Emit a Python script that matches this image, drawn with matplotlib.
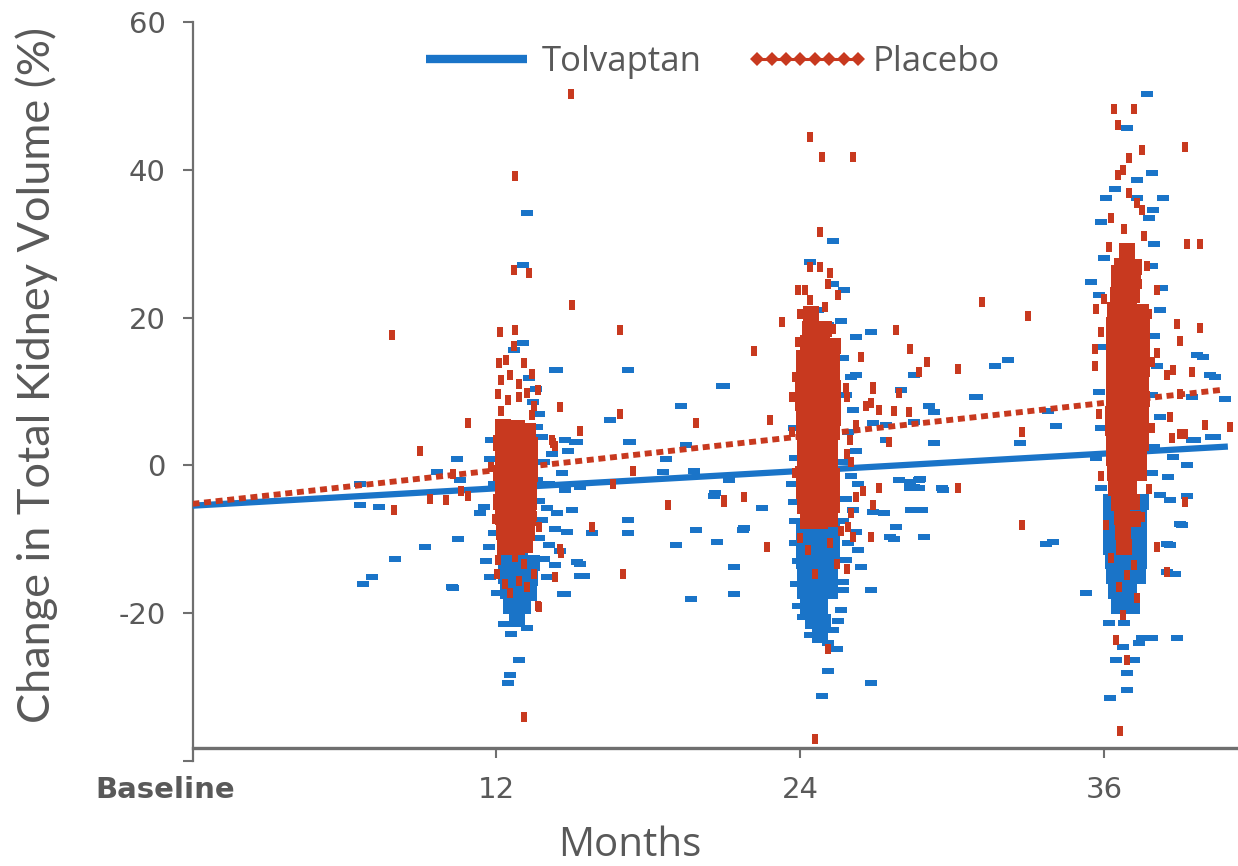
import matplotlib
matplotlib.use("Agg")
import matplotlib.pyplot as plt
import numpy as np
from matplotlib.lines import Line2D
from matplotlib import font_manager
from matplotlib.transforms import ScaledTranslation

# ---------------- data (months, % change) ----------------
trend_months = [0.0, 40.9]
tolvaptan_trend = [-5.45, 2.55]
placebo_trend_months = [0.0, 40.6]
placebo_trend = [-5.2, 10.2]

xtick_values = [0, 12, 24, 36]
xtick_labels = ["Baseline", "12", "24", "36"]
ytick_values = [-40, -20, 0, 20, 40, 60]
ytick_labels = ["", "-20", "0", "20", "40", "60"]

# dense (overlapping) parts of each visit cluster
placebo_core_12 = [
    (12.25, 5.2), (12.8, 5.0), (13.25, 4.6),
    (12.2, 3.0), (12.8, 3.1), (13.35, 2.8),
    (12.25, 1.0), (12.8, 1.1), (13.35, 0.9),
    (12.2, -1.0), (12.8, -0.9), (13.35, -1.1),
    (12.25, -3.0), (12.8, -3.0), (13.3, -3.1),
    (12.2, -5.0), (12.8, -4.9), (13.3, -5.0),
    (12.25, -7.0), (12.8, -7.0), (13.25, -7.1),
    (12.3, -9.0), (12.8, -9.0), (13.2, -9.1),
    (12.35, -11.0), (12.8, -11.0), (13.15, -10.8),
]
placebo_core_24 = [
    (24.45, 20.5),
    (24.4, 18.5), (24.95, 18.4),
    (24.3, 16.5), (24.85, 16.6), (25.3, 16.2),
    (24.15, 14.5), (24.7, 14.6), (25.25, 14.3),
    (24.15, 12.5), (24.7, 12.5), (25.25, 12.4),
    (24.1, 10.5), (24.7, 10.5), (25.3, 10.5),
    (24.1, 8.5), (24.7, 8.5), (25.3, 8.6),
    (24.15, 6.5), (24.7, 6.5), (25.3, 6.4),
    (24.15, 4.5), (24.7, 4.5), (25.25, 4.5),
    (24.2, 2.5), (24.7, 2.5), (25.2, 2.5),
    (24.2, 0.5), (24.7, 0.5), (25.2, 0.4),
    (24.15, -1.5), (24.7, -1.5), (25.25, -1.5),
    (24.15, -3.5), (24.7, -3.5), (25.25, -3.5),
    (24.2, -5.5), (24.7, -5.5), (25.25, -5.4),
    (24.3, -7.5), (24.8, -7.5), (25.2, -7.3),
]
placebo_core_36 = [
    (36.9, 29.0),
    (36.7, 27.0), (37.2, 26.8),
    (36.6, 25.0), (37.15, 25.0),
    (36.55, 23.0), (37.1, 23.0),
    (36.45, 21.0), (37.0, 21.0), (37.45, 20.8),
    (36.4, 19.0), (36.95, 19.0), (37.5, 19.0),
    (36.4, 17.0), (36.95, 17.0), (37.5, 17.0),
    (36.4, 15.0), (36.95, 15.0), (37.5, 15.0),
    (36.4, 13.0), (36.95, 13.0), (37.5, 13.0),
    (36.4, 11.0), (36.95, 11.0), (37.45, 11.0),
    (36.4, 9.0), (36.95, 9.0), (37.5, 9.0),
    (36.35, 7.0), (36.9, 7.0), (37.45, 7.0),
    (36.35, 5.0), (36.9, 5.0), (37.45, 5.0),
    (36.4, 3.0), (36.95, 3.0), (37.45, 3.0),
    (36.4, 1.0), (36.95, 1.0), (37.4, 1.0),
    (36.45, -1.0), (36.95, -1.0), (37.4, -1.0),
    (36.5, -3.0), (37.0, -3.0),
    (36.6, -5.0), (37.1, -5.0),
    (36.7, -7.0), (37.15, -7.2),
    (36.75, -9.0),
    (36.8, -11.0),
]
tolvaptan_core_12 = [
    (12.4, -13.0), (12.95, -13.0), (13.4, -13.2),
    (12.4, -15.0), (12.95, -15.0), (13.35, -15.2),
    (12.45, -17.0), (12.95, -17.0), (13.3, -17.2),
    (12.6, -19.0), (13.05, -19.0),
    (12.8, -20.8),
]
tolvaptan_core_24 = [
    (24.15, -9.0), (24.7, -9.0), (25.25, -9.0),
    (24.15, -11.0), (24.7, -11.0), (25.25, -11.0),
    (24.15, -13.0), (24.7, -13.0), (25.25, -13.0),
    (24.2, -15.0), (24.7, -15.0), (25.2, -15.0),
    (24.2, -17.0), (24.7, -17.0), (25.2, -17.0),
    (24.3, -19.0), (24.8, -19.0),
    (24.5, -21.0), (24.9, -21.2),
    (24.8, -23.0),
]
tolvaptan_core_36 = [
    (36.3, -5.0), (37.45, -5.0),
    (36.3, -7.0), (36.85, -7.0), (37.4, -7.0),
    (36.3, -9.0), (36.85, -9.0), (37.4, -9.0),
    (36.3, -11.0), (36.85, -11.0), (37.4, -11.0),
    (36.35, -13.0), (36.9, -13.0), (37.4, -13.0),
    (36.4, -15.0), (36.9, -15.0), (37.35, -15.0),
    (36.5, -17.0), (37.0, -17.0),
    (36.6, -19.0), (37.1, -19.0),
]

# individual patients, placebo
placebo_points = [
    # around month 12
    (12.16, 18.1), (12.75, 18.3), (12.7, 16.2), (13.1, 13.8), (12.1, 13.9),
    (12.4, 14.3), (13.4, 12.4), (12.2, 11.5), (12.55, 12.2), (12.9, 11.0),
    (12.05, 9.6), (12.45, 8.8), (12.9, 9.3), (13.2, 9.8), (13.5, 8.0),
    (12.2, 7.4), (13.4, 6.8), (13.66, 10.2), (14.2, 3.4), (14.3, 2.6),
    (11.8, -0.2), (11.96, -7.2), (13.5, -6.8), (13.7, -8.4), (14.5, -11.3),
    (14.55, -11.8), (12.07, -12.8), (12.73, -12.4), (13.1, -13.3), (12.56, -17.3),
    (12.03, -14.7), (13.5, -14.7), (13.66, -19.0), (12.9, -15.6), (12.35, -16.0),
    (13.2, -16.5), (13.1, -34.0),
    (14.96, 50.2), (12.75, 39.1), (12.7, 26.4), (13.3, 26.0), (15.0, 21.7),
    (16.9, 18.3), (7.9, 17.6),
    # before month 12
    (10.9, 5.7), (9.0, 2.0), (7.95, -6.1), (9.4, -4.5), (10.0, -4.7),
    (10.9, -4.1), (10.6, -3.4), (10.3, -1.1),
    # between 12 and 24
    (14.5, 7.9), (16.9, 7.0), (15.3, 4.7), (19.9, 5.7), (14.25, 3.0),
    (17.4, -0.7), (16.6, -2.5), (18.8, -5.3), (21.0, -4.7), (21.8, -4.3),
    (22.7, -11.1), (15.8, -8.4), (17.0, -14.7), (14.3, -15.1), (13.7, -19.2),
    (22.2, 15.5), (22.8, 6.1), (23.3, 19.4), (21.0, -5.0),
    # around month 24
    (24.4, 44.4), (24.85, 41.7), (26.1, 41.7), (24.77, 31.6), (24.4, 26.9),
    (24.8, 26.9), (25.2, 26.0), (23.9, 23.7), (24.2, 23.7), (24.4, 22.4),
    (25.1, 24.5), (25.5, 23.0), (25.0, 21.5), (24.0, 20.5), (25.3, 18.5),
    (24.1, 17.0), (25.5, 16.5), (26.4, 14.7), (26.9, 10.6), (26.8, 8.4),
    (27.1, 7.5), (27.7, 7.4), (28.3, 7.2), (27.5, 3.2), (26.2, 5.4),
    (27.1, -3.0), (26.9, -5.4), (26.8, -9.7), (25.85, -14.0), (25.1, -24.9),
    (24.6, -37.0), (25.45, -13.4), (24.6, -14.7), (24.3, -11.5), (25.2, -10.5),
    (24.0, -9.8), (25.6, -8.9), (23.8, -1.0), (26.0, 0.5), (23.7, 4.5),
    (25.8, 10.5), (23.8, 12.0), (26.0, -6.5), (25.85, 9.3), (25.98, 3.4),
    (25.85, 1.6), (26.2, -4.3), (25.9, -8.4), (26.1, -9.7), (26.5, -3.5),
    (23.9, -0.7), (23.7, 9.3), (23.9, 16.7),
    # between 24 and 36
    (31.2, 22.1), (33.0, 20.2), (27.8, 18.3), (28.35, 15.8), (29.0, 14.0),
    (30.25, 13.1), (28.7, 12.6), (26.9, 10.4), (27.9, 9.8), (26.6, 8.1),
    (30.25, -3.1), (32.75, -8.1), (32.75, 4.5),
    # around month 36
    (36.4, 48.2), (37.2, 48.2), (36.55, 46.0), (39.2, 43.1), (37.5, 42.7),
    (37.0, 41.6), (36.75, 40.0), (36.55, 39.3), (37.0, 36.8), (37.3, 35.5),
    (37.5, 34.5), (39.3, 29.9), (39.8, 29.9), (36.3, 33.5), (36.8, 32.0),
    (37.6, 31.0), (36.2, 29.5), (37.0, 28.5), (37.7, 27.0), (36.4, 26.5),
    (35.7, 21.1), (35.65, 15.7), (35.65, 13.4), (36.0, 22.5), (38.1, 23.7),
    (38.9, 19.1), (39.8, 18.6), (39.0, 16.9), (38.5, 12.3), (38.75, 12.9),
    (39.0, 9.7), (39.5, 12.6), (38.6, 6.6), (39.0, 4.3), (40.0, 5.5),
    (41.0, 5.2), (38.7, 3.7), (39.2, 4.2), (38.5, -14.4), (39.2, -5.0),
    (38.1, -11.1), (36.5, -23.6), (36.75, -20.3), (36.9, -26.4), (36.65, -36.0),
    (36.1, -8.0), (37.5, -7.0), (36.3, -12.5), (37.2, -13.5), (36.6, -16.5),
    (37.3, -18.0), (36.9, -14.8), (36.4, -5.5), (37.8, -3.2), (35.9, -1.5),
    (37.9, 5.0), (35.8, 7.0), (37.9, 14.0), (35.9, 18.0), (37.8, 20.5),
    (36.6, 24.0), (37.4, 24.5), (38.1, 15.2),
]

# individual patients, tolvaptan
tolvaptan_points = [
    # around month 12
    (13.07, 16.5), (13.2, 34.2), (13.07, 27.1), (12.7, 15.6), (14.4, 12.9),
    (17.2, 12.9), (16.5, 6.1), (17.3, 3.2), (14.7, 3.4), (15.2, 3.2),
    (10.45, 0.8), (15.3, -2.9), (17.2, -7.4), (17.2, -9.2), (10.5, -9.9),
    (9.2, -11.1), (8.0, -12.6), (10.25, -16.5), (15.3, -14.9), (14.65, -17.4),
    (14.0, -15.1), (15.2, -13.1), (12.6, -22.8), (12.9, -26.4), (12.55, -28.4),
    (12.45, -29.4), (13.2, -22.0), (12.3, -21.5),
    (11.77, 0.8), (11.5, -5.6), (11.37, -6.5), (11.9, -9.2), (11.7, -11.1),
    (11.6, -12.9), (11.77, -15.1), (12.03, -17.3), (11.8, 3.5), (11.9, -2.5),
    (13.3, 11.8), (13.55, 10.3), (13.45, 8.6), (13.7, 7.0), (13.6, 5.2),
    (13.8, 3.8), (14.2, 1.5), (14.6, -1.0), (14.1, -2.5), (14.7, -3.3),
    (13.7, -4.8), (14.0, -5.8), (14.4, -6.4), (13.8, -7.4), (14.3, -8.6),
    (14.8, -9.0), (13.7, -9.8), (14.1, -10.8), (14.5, -11.6), (13.9, -12.6),
    (14.3, -13.5), (13.6, -2.0), (13.9, 0.5),
    # before month 12
    (6.6, -2.5), (6.6, -5.4), (7.35, -5.6), (10.55, -2.0), (9.65, -0.9),
    (7.1, -15.1), (6.75, -16.1), (10.3, -16.6),
    # between 12 and 24
    (14.3, 12.9), (20.9, 10.7), (19.3, 8.1), (15.1, 3.2), (17.25, 3.2),
    (19.5, 2.7), (14.85, 2.0), (18.7, 0.9), (18.6, -0.9), (19.8, -0.7),
    (15.3, -2.7), (20.65, -3.8), (22.5, -5.8), (15.8, -9.2), (15.0, -6.1),
    (19.9, -8.8), (21.8, -8.5), (19.1, -10.8), (20.7, -10.4), (15.3, -13.3),
    (15.45, -14.9), (21.4, -13.8), (14.7, -17.4), (19.7, -18.1), (21.4, -17.4),
    (21.0, 10.8), (20.6, -4.1), (21.2, -2.0), (21.75, -8.8),
    # around month 24
    (24.4, 27.5), (25.3, 30.4), (25.75, 23.7), (25.6, 19.6), (26.8, 18.1),
    (26.2, 17.4), (28.5, 12.2), (26.2, 12.2), (28.0, 10.2), (29.3, 7.2),
    (31.0, 9.3), (26.9, 5.7), (27.4, 5.4), (28.5, 5.9), (29.3, 3.0),
    (27.4, 3.4), (27.9, -2.0), (28.35, -2.3), (28.75, -1.8), (28.5, -2.9),
    (29.6, -3.1), (28.5, -6.1), (26.9, -6.3), (27.3, -6.5), (27.8, -8.4),
    (27.55, -9.7), (28.9, -9.7), (26.8, -16.9), (25.7, -15.8), (25.7, -16.9),
    (26.4, -13.8), (26.8, -29.4), (25.1, -27.8), (24.85, -31.2), (25.1, -24.1),
    (25.45, -24.8), (24.4, -23.0), (25.3, -22.3),
    (23.75, 5.0), (23.8, 1.0), (23.7, -2.5), (23.75, -5.0), (23.8, -7.5),
    (25.7, 14.5), (26.0, 12.0), (25.8, 9.5), (26.1, 7.5), (25.9, 4.5),
    (26.2, 2.0), (25.75, 0.5), (26.0, -1.5), (26.3, -2.5), (25.8, -4.5),
    (26.1, -6.0), (25.7, -7.5), (26.2, -9.0), (25.9, -10.5), (26.3, -11.5),
    (25.8, -12.8), (23.8, -10.5), (23.9, -13.0), (23.85, -16.0), (23.9, -19.0),
    (24.1, -20.5), (25.6, -19.5), (25.5, -21.0), (24.3, 17.5), (25.1, 19.0),
    (24.7, 21.0), (25.3, 24.5), (24.5, 15.8),
    # between 24 and 36
    (32.2, 14.2), (31.7, 13.5), (30.9, 9.2), (29.1, 8.1), (33.8, 7.4),
    (34.1, 5.3), (32.7, 3.0), (28.7, -2.0), (28.35, -3.1), (28.7, -3.1),
    (29.65, -3.3), (28.4, -6.1), (28.8, -6.1), (27.7, -9.9), (33.7, -10.6),
    # around month 36
    (37.7, 50.2), (36.9, 45.6), (37.9, 39.6), (37.3, 38.6), (36.45, 37.4),
    (36.1, 36.2), (37.3, 36.2), (38.35, 36.2), (37.95, 34.5), (38.3, 24.0),
    (35.5, 24.8), (39.7, 14.9), (40.2, 12.3), (39.5, 9.2), (39.5, 3.5),
    (40.25, 3.8), (39.3, 0.1), (38.55, -1.6), (38.6, -4.7), (39.3, -4.2),
    (39.0, -7.9), (38.5, -10.7), (34.0, -10.4), (38.5, -14.4), (35.3, -17.3),
    (36.2, -21.3), (36.8, -21.3), (37.5, -23.3), (37.9, -23.3), (38.9, -23.3),
    (36.5, -26.4), (37.2, -26.4), (36.9, -28.1), (36.9, -30.4), (36.25, -31.5),
    (36.75, -24.6), (37.4, -24.1), (39.9, 14.7), (40.4, 12.0), (40.8, 9.0),
    (40.4, 3.8), (39.6, 3.4), (38.75, 1.1), (39.1, -8.1), (38.6, -10.8),
    (38.8, -14.7),
    (35.9, 33.0), (36.0, 28.0), (35.8, 23.0), (36.0, 16.0), (35.8, 10.0),
    (35.9, 5.0), (35.7, 1.0), (35.9, -3.0), (37.8, 33.5), (38.0, 30.0),
    (37.9, 27.0), (38.2, 21.0), (38.0, 17.5), (38.1, 13.5), (37.9, 9.5),
    (38.2, 6.5), (38.0, 2.5), (37.9, -1.0), (38.2, -4.0),
]

# ---------------- style ----------------
BLUE = "#1a74c8"
RED = "#c8391f"
GRAY_TXT = "#595959"
GRAY_AX = "#6f6f6f"

names = {f.name for f in font_manager.fontManager.ttflist}
if "Liberation Sans Narrow" in names:
    ylab_family, ylab_size = "Liberation Sans Narrow", 37
else:
    ylab_family, ylab_size = "Lato", 32.5

blue_mark = [(-2, -1), (2, -1), (2, 1), (-2, 1)]
red_mark = [(-1, -2), (1, -2), (1, 2), (-1, 2)]

fig = plt.figure(figsize=(12.38, 8.66), dpi=100)
fig.patch.set_facecolor("white")
ax = fig.add_axes([192.5 / 1238, 105 / 866, 1045.5 / 1238, 739 / 866])
ax.set_xlim(0, 41.3)
ax.set_ylim(-40, 60)


def xy(pts):
    a = np.array(pts, dtype=float)
    return a[:, 0], a[:, 1]


# tolvaptan
x, y = xy(tolvaptan_core_12 + tolvaptan_core_24 + tolvaptan_core_36)
ax.plot(x, y, ls="none", marker="s", ms=11, mew=0, color=BLUE, zorder=2)
x, y = xy(tolvaptan_points)
ax.plot(x, y, ls="none", marker=blue_mark, ms=8, mew=0, color=BLUE, zorder=2)
ax.plot(trend_months, tolvaptan_trend, color=BLUE, lw=4.5, solid_capstyle="butt", zorder=3)

# placebo
x, y = xy(placebo_core_12 + placebo_core_24 + placebo_core_36)
ax.plot(x, y, ls="none", marker="s", ms=11, mew=0, color=RED, zorder=4)
x, y = xy(placebo_points)
ax.plot(x, y, ls="none", marker=red_mark, ms=7.5, mew=0, color=RED, zorder=4)
ax.plot(placebo_trend_months, placebo_trend, color=RED, lw=4.2,
        linestyle=(0, (1.2, 0.8)), dash_capstyle="butt", zorder=5)

# axes styling
for s in ("top", "right"):
    ax.spines[s].set_visible(False)
ax.spines["left"].set_color(GRAY_AX)
ax.spines["left"].set_linewidth(1.6)
ax.spines["bottom"].set_color(GRAY_AX)
ax.spines["bottom"].set_linewidth(2.4)
ax.spines["bottom"].set_position(("data", -38.3))

ax.set_yticks(ytick_values)
ax.set_yticklabels(ytick_labels)
ax.set_xticks(xtick_values)
ax.set_xticklabels(xtick_labels)
ax.tick_params(axis="both", colors=GRAY_AX, labelcolor=GRAY_TXT, labelsize=21,
               length=7.5, width=1.5, pad=12, direction="out")
ax.xaxis.get_major_ticks()[0].tick1line.set_visible(False)
base = ax.get_xticklabels()[0]
base.set_fontweight("bold")
base.set_transform(base.get_transform() + ScaledTranslation(-0.27, 0, fig.dpi_scale_trans))

fig.text(37 / 1238, 1 - 375 / 866, "Change in Total Kidney Volume (%)", rotation=90,
         ha="center", va="center", color=GRAY_TXT, family=ylab_family, size=ylab_size)
fig.text(630 / 1238, 1 - 846 / 866, "Months", ha="center", va="center",
         color=GRAY_TXT, family="Open Sans", size=29)

handles = [Line2D([], [], color=BLUE, lw=6, solid_capstyle="butt"),
           Line2D([], [], color=RED, lw=2.2, marker="D", ms=7, mew=0)]
ax.legend(handles, ["Tolvaptan", "Placebo"], loc="center", bbox_to_anchor=(0.493, 0.946),
          ncol=2, frameon=False, prop={"family": "Open Sans", "size": 25},
          handlelength=3.5, handletextpad=0.12, columnspacing=1.3, numpoints=8,
          labelcolor=GRAY_TXT)

fig.savefig("out.png", dpi=100, facecolor="white")
